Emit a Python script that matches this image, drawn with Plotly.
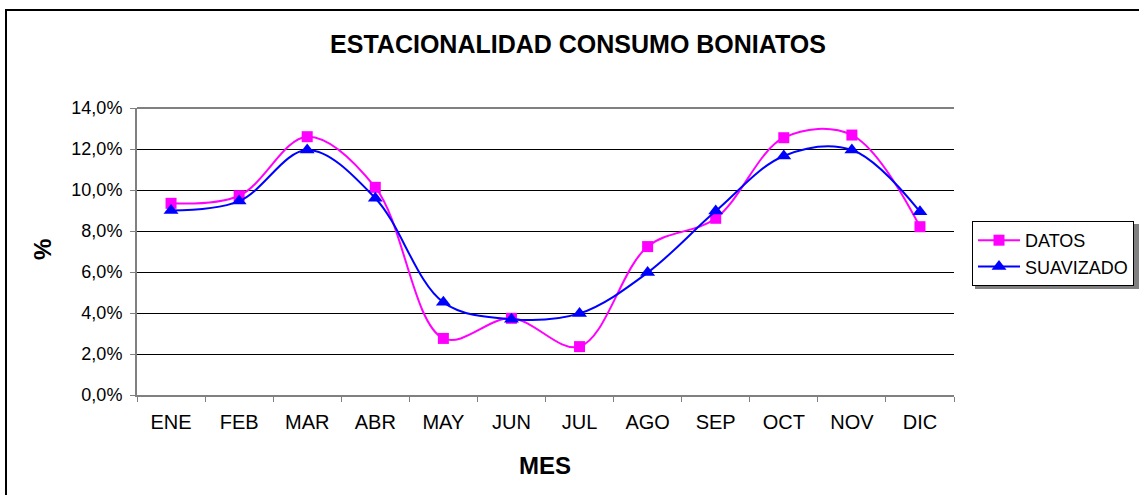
import plotly.graph_objects as go

meses = ["ENE", "FEB", "MAR", "ABR", "MAY", "JUN", "JUL", "AGO", "SEP", "OCT", "NOV", "DIC"]
datos = [9.35, 9.72, 12.6, 10.13, 2.76, 3.74, 2.36, 7.24, 8.62, 12.55, 12.68, 8.21]
suavizado = [9.0, 9.46, 11.95, 9.6, 4.52, 3.7, 3.98, 5.97, 8.97, 11.66, 11.95, 8.94]
y_ticks = [0, 2, 4, 6, 8, 10, 12, 14]
y_tick_text = [f"{v:.1f}%".replace(".", ",") for v in y_ticks]

W, H = 1139, 495
# reference plot-area pixel bounds
L, T, R, B = 137, 108, 954, 395
pw, ph = R - L, B - T


def px(x):
    return (x - L) / pw


def py(y):
    return (B - y) / ph


fig = go.Figure()
fig.add_trace(go.Scatter(
    x=meses, y=datos, name="DATOS", mode="lines+markers",
    line=dict(color="#FF00FF", width=2, shape="spline", smoothing=1.0),
    marker=dict(symbol="square", size=11, color="#FF00FF"),
))
fig.add_trace(go.Scatter(
    x=meses, y=suavizado, name="SUAVIZADO", mode="lines+markers",
    line=dict(color="#0000FF", width=2, shape="spline", smoothing=1.0),
    marker=dict(symbol="triangle-up", size=13, color="#0000FF"),
))

fig.update_layout(
    width=W, height=H,
    margin=dict(l=L, r=W - R, t=T, b=H - B, autoexpand=False),
    paper_bgcolor="white", plot_bgcolor="white",
    font=dict(family="Arial, Liberation Sans, sans-serif", color="black", size=18),
    title=dict(text="<b>ESTACIONALIDAD CONSUMO BONIATOS</b>", x=px(578), xref="paper",
               y=1 - 44 / H, yref="container", xanchor="center", yanchor="middle",
               font=dict(size=25)),
    xaxis=dict(
        type="category", range=[-0.5, 11.5], showgrid=False,
        showline=True, linecolor="#808080", linewidth=2,
        ticks="outside", tickson="boundaries", ticklen=5, tickcolor="#808080",
        tickfont=dict(size=20), ticklabelstandoff=8,
    ),
    yaxis=dict(
        range=[0, 14], tickvals=y_ticks, ticktext=y_tick_text,
        showgrid=True, gridcolor="black", gridwidth=1,
        showline=True, linecolor="#808080", linewidth=2,
        ticks="outside", ticklen=5, tickcolor="#808080",
        tickfont=dict(size=18), zeroline=False, ticklabelstandoff=4,
    ),
    legend=dict(
        x=px(972), y=py(221), xanchor="left", yanchor="top",
        bordercolor="black", borderwidth=1, bgcolor="white",
        font=dict(size=18), tracegroupgap=0, itemwidth=42,
    ),
    showlegend=True,
    annotations=[
        dict(text="<b>%</b>", xref="paper", yref="paper", x=px(42), y=py(250),
             showarrow=False, textangle=-90, font=dict(size=24),
             xanchor="center", yanchor="middle"),
        dict(text="<b>MES</b>", xref="paper", yref="paper", x=px(545), y=py(465),
             showarrow=False, font=dict(size=24),
             xanchor="center", yanchor="middle"),
    ],
    shapes=[
        dict(type="rect", xref="paper", yref="paper",
             x0=px(6), x1=px(1160), y0=py(520), y1=py(10),
             line=dict(color="black", width=2), fillcolor="rgba(0,0,0,0)", layer="below"),
        dict(type="line", xref="paper", yref="paper", x0=0, x1=1, y0=1, y1=1,
             line=dict(color="#808080", width=2)),
        dict(type="rect", xref="paper", yref="paper",
             x0=px(975), x1=px(1139), y0=py(289), y1=py(224),
             line=dict(width=0), fillcolor="#808080", layer="below"),
    ],
)

fig.write_html(
    "out.html",
    config={"displayModeBar": False},
    post_script="document.body.style.margin='0';document.body.style.overflow='hidden';",
)
